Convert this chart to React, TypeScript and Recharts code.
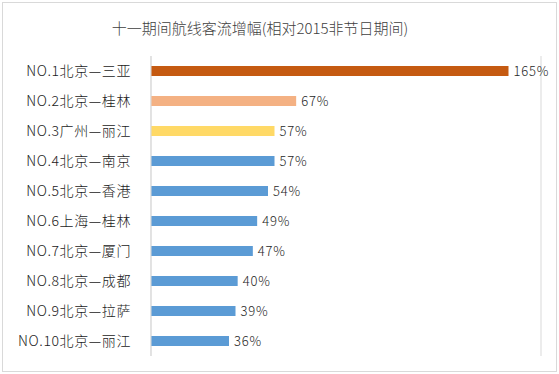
import React from "react";
import { BarChart, Bar, XAxis, YAxis, CartesianGrid, Cell, LabelList } from "recharts";

const categories = [
  "NO.1北京—三亚",
  "NO.2北京—桂林",
  "NO.3广州—丽江",
  "NO.4北京—南京",
  "NO.5北京—香港",
  "NO.6上海—桂林",
  "NO.7北京—厦门",
  "NO.8北京—成都",
  "NO.9北京—拉萨",
  "NO.10北京—丽江",
];
const values = [165, 67, 57, 57, 54, 49, 47, 40, 39, 36];
const barColors = [
  "#C55A11",
  "#F4B183",
  "#FFD966",
  "#5B9BD5",
  "#5B9BD5",
  "#5B9BD5",
  "#5B9BD5",
  "#5B9BD5",
  "#5B9BD5",
  "#5B9BD5",
];
const xTicks = [0, 20, 40, 60, 80, 100, 120, 140, 160, 180];
const title = "十一期间航线客流增幅(相对2015非节日期间)";

const data = categories.map((name, i) => ({ name, value: values[i] }));

const FONT = "'Noto Sans CJK SC', 'Noto Sans', sans-serif";

export default function App() {
  return (
    <div style={{ position: "absolute", left: 0, top: 0, width: 559, height: 374, background: "#fff", fontFamily: FONT }}>
      <div
        style={{
          position: "absolute",
          left: 2,
          top: 2,
          width: 553,
          height: 368,
          border: "1px solid #D9D9D9",
        }}
      />
      <div
        style={{
          position: "absolute",
          left: 0,
          width: 520,
          top: 18,
          textAlign: "center",
          fontSize: 15,
          fontWeight: 300,
          color: "#404040",
          lineHeight: "20px",
        }}
      >
        {title}
      </div>
      <div style={{ position: "absolute", left: 0, top: 0 }}>
        <BarChart
          width={559}
          height={374}
          data={data}
          layout="vertical"
          margin={{ top: 56, right: 18, bottom: 18, left: 0 }}
          barCategoryGap={0}
        >
          <CartesianGrid horizontal={false} stroke="#D9D9D9" strokeWidth={1} />
          <XAxis
            type="number"
            domain={[0, 180]}
            ticks={xTicks}
            tick={false}
            axisLine={false}
            tickLine={false}
            height={0}
          />
          <YAxis
            type="category"
            dataKey="name"
            width={151}
            axisLine={{ stroke: "#D9D9D9" }}
            tickLine={false}
            tickMargin={14}
            tick={{ fontSize: 14, fill: "#1a1a1a", fontFamily: FONT, fontWeight: 300, letterSpacing: 0.6 }}
            interval={0}
          />
          <Bar dataKey="value" barSize={10} isAnimationActive={false}>
            {data.map((d, i) => (
              <Cell key={d.name} fill={barColors[i]} />
            ))}
            <LabelList
              dataKey="value"
              position="right"
              offset={5}
              formatter={(v: any) => `${v}%`}
              style={{ fontSize: 13, fill: "#262626", fontFamily: FONT, fontWeight: 300, letterSpacing: 0.8 }}
            />
          </Bar>
        </BarChart>
      </div>
    </div>
  );
}
